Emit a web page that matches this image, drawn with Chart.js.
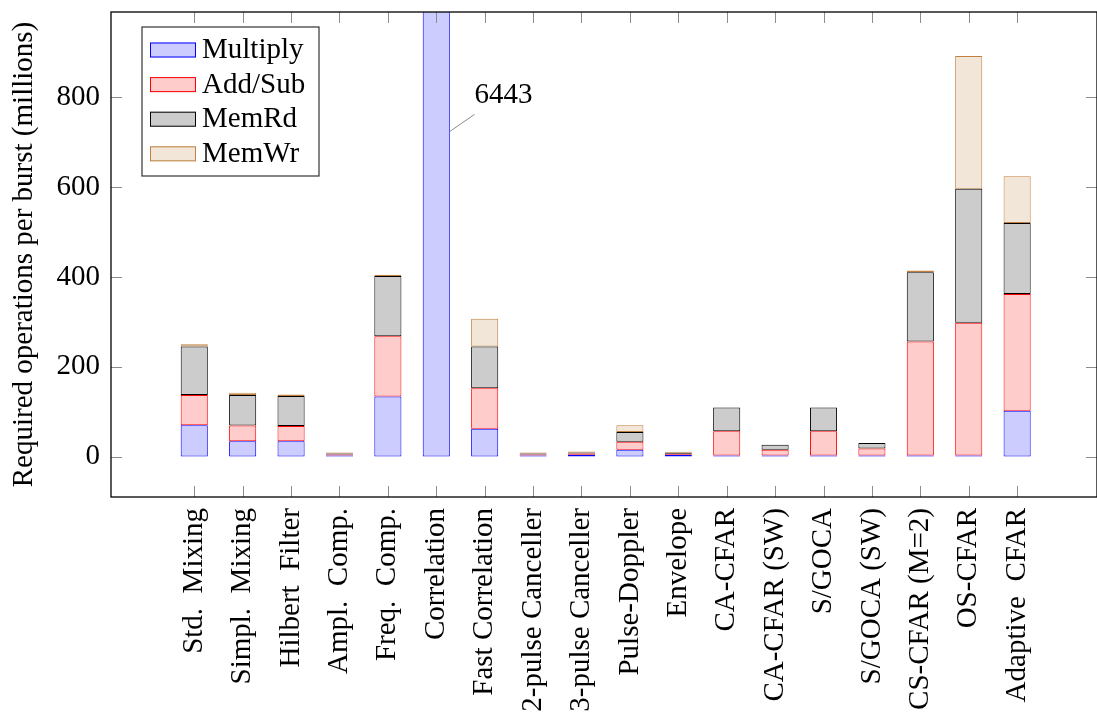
<!DOCTYPE html>
<html lang="en">
<head>
<meta charset="UTF-8">
<title>Required operations per burst</title>
<script src="https://cdn.jsdelivr.net/npm/chart.js@4/dist/chart.umd.min.js"></script>
<style>
  body { margin: 0; background: white; overflow: hidden; }
  #wrap { position: relative; width: 1097px; height: 714px; }
</style>
</head>
<body>
<div id="wrap"><canvas id="chart"></canvas></div>
<script>
// categories along the x axis
const categories = [
  'Std.  Mixing', 'Simpl.  Mixing', 'Hilbert  Filter', 'Ampl.  Comp.', 'Freq.  Comp.',
  'Correlation', 'Fast Correlation', '2-pulse Canceller', '3-pulse Canceller',
  'Pulse-Doppler', 'Envelope', 'CA-CFAR', 'CA-CFAR (SW)', 'S/GOCA', 'S/GOCA (SW)',
  'CS-CFAR (M=2)', 'OS-CFAR', 'Adaptive  CFAR'
];

// millions of operations per burst (null = no segment)
const multiply = [70, 34, 34, 0.5, 134, 6443, 62, 1, 4, 15, 4, 1, 1, 1, 1, 1, 1, 102];
const addSub   = [67, 35, 34, 0.5, 134, null, 90, 2, 3, 18, 0.5, 54, 13, 54, 16, 254, 296, 260];
const memRd    = [108, 68, 67, 1, 134, null, 93, 2, 2, 22, 0.5, 53, 11, 53, 12, 154, 298, 158];
const memWr    = [5, 5, 3, 0.5, 3, null, 62, 1, 1, 15, 0.5, null, null, null, null, 4, 296, 104];

const yTicks = [0, 200, 400, 600, 800];
const yMin = -90, yMax = 990;
const xMin = -1.72, xMax = 18.65;

// the clipped correlation bar gets a pin with its real value
const pin = { index: 5, label: '6443', fromY: 724, toDx: 0.79, toY: 762, textY: 788 };

const SERIF = "'Liberation Serif', 'DejaVu Serif', serif";
const FONT = { family: SERIF, size: 29 };

function series(label, values, fill, stroke) {
  return {
    label: label,
    data: values.map((v, i) => ({ x: i, y: v })),
    backgroundColor: fill,
    borderColor: stroke,
    borderWidth: 1,
    borderSkipped: false,
    minBarLength: 1,
    barPercentage: 0.56,
    categoryPercentage: 1,
    clip: 0
  };
}

const datasets = [
  series('Multiply', multiply, 'rgb(204,204,255)', 'rgb(0,0,255)'),
  series('Add/Sub', addSub, 'rgb(255,204,204)', 'rgb(255,0,0)'),
  series('MemRd', memRd, 'rgb(204,204,204)', 'rgb(0,0,0)'),
  series('MemWr', memWr, 'rgb(242,230,217)', 'rgb(191,128,64)')
];

// axis box with inward ticks, like pgfplots
const framePlugin = {
  id: 'frame',
  afterDatasetsDraw(chart) {
    const { ctx, chartArea: a, scales: { x, y } } = chart;
    ctx.save();
    ctx.strokeStyle = '#8c8c8c';
    ctx.lineWidth = 1;
    ctx.beginPath();
    categories.forEach((_, i) => {
      const px = Math.round(x.getPixelForValue(i)) + 0.5;
      ctx.moveTo(px, a.bottom); ctx.lineTo(px, a.bottom - 11);
      ctx.moveTo(px, a.top); ctx.lineTo(px, a.top + 11);
    });
    yTicks.forEach(v => {
      const py = Math.round(y.getPixelForValue(v)) + 0.5;
      ctx.moveTo(a.left, py); ctx.lineTo(a.left + 11, py);
      ctx.moveTo(a.right, py); ctx.lineTo(a.right - 11, py);
    });
    ctx.stroke();

    ctx.strokeStyle = '#000';
    ctx.lineWidth = 1.3;
    ctx.strokeRect(a.left, a.top, a.right - a.left, a.bottom - a.top);

    // pin for the bar that runs off the top
    const bar = chart.getDatasetMeta(0).data[pin.index];
    const bx = bar.x + bar.width / 2;
    const ex = x.getPixelForValue(pin.index + pin.toDx);
    ctx.strokeStyle = '#8c8c8c';
    ctx.lineWidth = 1;
    ctx.beginPath();
    ctx.moveTo(bx, y.getPixelForValue(pin.fromY));
    ctx.lineTo(ex, y.getPixelForValue(pin.toY));
    ctx.stroke();
    ctx.fillStyle = '#000';
    ctx.font = FONT.size + 'px ' + SERIF;
    ctx.textAlign = 'left';
    ctx.textBaseline = 'alphabetic';
    ctx.fillText(pin.label, ex, y.getPixelForValue(pin.textY));
    ctx.restore();
  }
};

// boxed legend in the upper left of the plot
const legendPlugin = {
  id: 'boxLegend',
  afterDraw(chart) {
    const { ctx, chartArea: a } = chart;
    const left = a.left + 31, top = a.top + 15;
    ctx.save();
    ctx.fillStyle = '#fff';
    ctx.fillRect(left, top, 177, 149);
    ctx.strokeStyle = '#333';
    ctx.lineWidth = 1.2;
    ctx.strokeRect(left, top, 177, 149);
    ctx.font = FONT.size + 'px ' + SERIF;
    ctx.textAlign = 'left';
    ctx.textBaseline = 'alphabetic';
    chart.data.datasets.forEach((ds, i) => {
      const cy = top + 23 + i * 34.6;
      ctx.fillStyle = ds.backgroundColor;
      ctx.fillRect(left + 8, cy - 7.5, 46, 15);
      ctx.strokeStyle = ds.borderColor;
      ctx.lineWidth = 1;
      ctx.strokeRect(left + 8.5, cy - 7, 45, 14);
      ctx.fillStyle = '#000';
      ctx.fillText(ds.label, left + 60, cy + 8);
    });
    ctx.restore();
  }
};

new Chart(document.getElementById('chart'), {
  type: 'bar',
  data: { datasets: datasets },
  plugins: [framePlugin, legendPlugin],
  options: {
    responsive: true,
    maintainAspectRatio: false,
    devicePixelRatio: 1,
    animation: false,
    layout: { padding: { top: 12, right: -6, bottom: 0, left: 0 } },
    plugins: {
      legend: { display: false },
      tooltip: { enabled: false }
    },
    scales: {
      x: {
        type: 'linear',
        stacked: true,
        offset: false,
        min: xMin,
        max: xMax,
        grid: { display: false, drawTicks: false },
        border: { display: false },
        afterBuildTicks: scale => { scale.ticks = categories.map((_, i) => ({ value: i })); },
        afterFit: scale => {
          scale.height = 217;
          scale.paddingLeft = 0;
          scale.paddingRight = 0;
        },
        ticks: {
          autoSkip: false,
          maxRotation: 90,
          minRotation: 90,
          padding: 11,
          color: '#000',
          font: FONT,
          callback: v => categories[v]
        }
      },
      y: {
        stacked: true,
        min: yMin,
        max: yMax,
        grid: { display: false, drawTicks: false },
        border: { display: false },
        afterBuildTicks: scale => { scale.ticks = yTicks.map(v => ({ value: v })); },
        afterFit: scale => {
          scale.width = 111;
          scale.paddingTop = 0;
          scale.paddingBottom = 0;
        },
        ticks: { padding: 11, color: '#000', font: FONT },
        title: {
          display: true,
          text: 'Required operations per burst (millions)',
          color: '#000',
          font: FONT,
          padding: { top: 7, bottom: 0 }
        }
      }
    }
  }
});
</script>
</body>
</html>
